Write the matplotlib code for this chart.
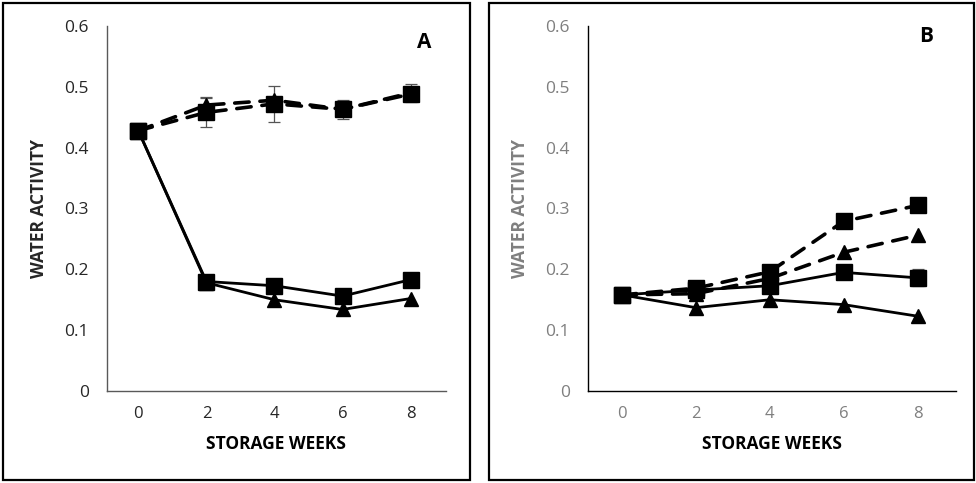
import matplotlib
matplotlib.use("Agg")
import matplotlib.pyplot as plt
from matplotlib.patches import Rectangle

weeks = ["0", "2", "4", "6", "8"]
yticks = [0, 0.1, 0.2, 0.3, 0.4, 0.5, 0.6]
ytick_labels = ["0", "0.1", "0.2", "0.3", "0.4", "0.5", "0.6"]

# Panel A
a_solid_square = [0.428, 0.180, 0.173, 0.156, 0.183]
a_solid_triangle = [0.428, 0.178, 0.150, 0.134, 0.152]
a_dash_square = [0.428, 0.458, 0.472, 0.463, 0.488]
a_dash_square_err = [0.0, 0.024, 0.030, 0.0, 0.0]
a_dash_triangle = [0.428, 0.470, 0.478, 0.463, 0.490]
a_dash_triangle_err = [0.0, 0.013, 0.0, 0.016, 0.015]

# Panel B
b_solid_square = [0.158, 0.166, 0.173, 0.195, 0.186]
b_solid_square_err = [0.0, 0.0, 0.0, 0.0, 0.014]
b_solid_triangle = [0.158, 0.137, 0.150, 0.142, 0.123]
b_dash_square = [0.158, 0.169, 0.196, 0.279, 0.305]
b_dash_triangle = [0.158, 0.160, 0.185, 0.228, 0.256]

fig = plt.figure(figsize=(9.76, 4.83), dpi=100)
W, H = 976, 483

# panel borders
for (x0, x1) in [(3, 470), (489, 974)]:
    fig.patches.append(Rectangle((x0 / W, 3 / H), (x1 - x0) / W, (480 - 3) / H,
                                 transform=fig.transFigure, fill=False,
                                 edgecolor="black", linewidth=1.6))

font = "Open Sans"


def setup(ax, letter, tick_color, spine_color, ylab_color, letter_xy):
    xs = list(range(len(weeks)))
    ax.set_xlim(-0.46, 4.52)
    ax.set_ylim(0, 0.6)
    ax.set_xticks(xs)
    ax.set_xticklabels(weeks, fontfamily=font, fontsize=12, color=tick_color)
    ax.set_yticks(yticks)
    ax.set_yticklabels(ytick_labels, fontfamily=font, fontsize=12.5, color=tick_color)
    ax.tick_params(length=0, pad=13)
    ax.tick_params(axis="x", pad=11)
    for s in ["top", "right"]:
        ax.spines[s].set_visible(False)
    ax.spines["left"].set_color(spine_color)
    ax.spines["bottom"].set_color(spine_color)
    ax.spines["left"].set_linewidth(1.0)
    ax.spines["bottom"].set_linewidth(1.0)
    ax.set_xlabel("STORAGE WEEKS", fontfamily=font, fontweight="bold",
                  fontsize=12.5, color="black", labelpad=9)
    ax.set_ylabel("WATER ACTIVITY", fontfamily=font, fontweight="bold",
                  fontsize=12.5, color=ylab_color, labelpad=12)
    ax.text(letter_xy[0], letter_xy[1], letter, transform=ax.transAxes,
            fontfamily=font, fontweight="bold", fontsize=15, ha="center", va="center")


def plot_series(ax, y, marker, dashed, err=None, ms=11):
    xs = list(range(len(y)))
    ls = (0, (4, 3)) if dashed else "-"
    lw = 2.6 if dashed else 2.0
    if err is not None:
        ax.errorbar(xs, y, yerr=err, fmt="none", ecolor="#555555",
                    elinewidth=0.9, capsize=4, capthick=0.9, zorder=2)
    ax.plot(xs, y, color="black", linestyle=ls, linewidth=lw, marker=marker,
            markersize=ms, markerfacecolor="black", markeredgecolor="black",
            zorder=3, solid_capstyle="round", dash_capstyle="round")


axA = fig.add_axes([107 / W, 1 - 391 / H, (446 - 107) / W, (391 - 26) / H])
setup(axA, "A", "#262626", "#595959", "#262626", (0.935, 0.956))
plot_series(axA, a_solid_triangle, "^", False, ms=10)
plot_series(axA, a_solid_square, "s", False)
plot_series(axA, a_dash_triangle, "^", True, err=a_dash_triangle_err, ms=10)
plot_series(axA, a_dash_square, "s", True, err=a_dash_square_err)

axB = fig.add_axes([588 / W, 1 - 391 / H, (956 - 588) / W, (391 - 26) / H])
setup(axB, "B", "#7f7f7f", "#000000", "#7f7f7f", (0.918, 0.97))
plot_series(axB, b_solid_triangle, "^", False, ms=10)
plot_series(axB, b_solid_square, "s", False, err=b_solid_square_err)
plot_series(axB, b_dash_triangle, "^", True, ms=10)
plot_series(axB, b_dash_square, "s", True)

fig.savefig("out.png", dpi=100)
